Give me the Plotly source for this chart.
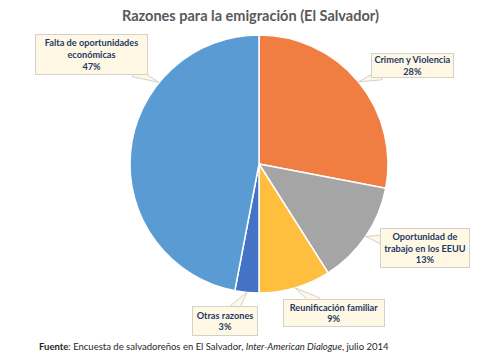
import math
import plotly.graph_objects as go

# ---- data ----
categories = ["Crimen y Violencia", "Oportunidad de trabajo en los EEUU",
              "Reunificación familiar", "Otras razones",
              "Falta de oportunidades económicas"]
values = [28, 13, 9, 3, 47]
label_lines = [["Crimen y Violencia"],
               ["Oportunidad de", "trabajo en los EEUU"],
               ["Reunificación familiar"],
               ["Otras razones"],
               ["Falta de oportunidades", "económicas"]]
colors = ["#F07D41", "#A5A5A5", "#FFBE3D", "#4472C4", "#5A9BD4"]

title = "Razones para la emigración (El Salvador)"
source = ("<b>Fuente</b>: Encuesta de salvadoreños en El Salvador, "
          "<i>Inter-American Dialogue</i>, julio 2014")

# ---- layout / style ----
W, H = 500, 356
CX, CY, R = 259, 164, 129          # pie centre and radius (pixels)
# callout box: centre x, centre y, width, height (pixels); tip position along slice
boxes = [(412.5, 65.5, 83, 25, 0.5),
         (425, 248, 90, 40, 0.5),
         (334, 313, 102, 28, 0.5),
         (225, 321, 66, 30, 0.5),
         (91.5, 54.5, 113, 41, 0.70)]
TXT = "#1F3864"
BOXBG = "#FEF8E4"
BOXLINE = "#D3D1CC"
FONT = "Lato"

def px2paper(x, y):
    return x / W, 1 - y / H

fig = go.Figure(go.Pie(
    labels=categories, values=values, sort=False, direction="clockwise",
    rotation=0, marker=dict(colors=colors, line=dict(color="white", width=1.5)),
    textinfo="none", hoverinfo="label+percent", showlegend=False,
    domain=dict(x=[(CX - R) / W, (CX + R) / W], y=[1 - (CY + R) / H, 1 - (CY - R) / H]),
))

total = sum(values)
cum = 0
shapes, annotations = [], []
for i, v in enumerate(values):
    bx, by, bw, bh, frac = boxes[i]
    ang = 2 * math.pi * (cum + v * frac) / total
    cum += v
    tx = CX + R * math.sin(ang)
    ty = CY - R * math.cos(ang)
    # tail triangle
    dx, dy = tx - bx, ty - by
    s = min((bw / 2 - 3) / abs(dx) if dx else 1e9, (bh / 2 - 3) / abs(dy) if dy else 1e9)
    ex, ey = bx + dx * s, by + dy * s
    L = math.hypot(dx, dy)
    nx, ny = -dy / L, dx / L
    p1 = px2paper(ex + nx * 5, ey + ny * 5)
    p2 = px2paper(ex - nx * 5, ey - ny * 5)
    pt = px2paper(tx, ty)
    shapes.append(dict(type="path", xref="paper", yref="paper",
                       path=f"M{p1[0]},{p1[1]} L{pt[0]},{pt[1]} L{p2[0]},{p2[1]} Z",
                       fillcolor=BOXBG, line=dict(color=BOXLINE, width=1), layer="above"))
    text = "<br>".join(f"<b>{t}</b>" for t in label_lines[i] + [f"{v}%"])
    ax_, ay_ = px2paper(bx, by)
    annotations.append(dict(x=ax_, y=ay_, xref="paper", yref="paper", text=text,
                            showarrow=False, xanchor="center", yanchor="middle",
                            width=bw - 2, height=bh - 2, borderpad=0,
                            bgcolor=BOXBG, bordercolor=BOXLINE, borderwidth=1,
                            font=dict(family=FONT, size=9.2, color=TXT)))

annotations.append(dict(x=0.5, y=1 - 15 / H, xref="paper", yref="paper", text=f"<b>{title}</b>",
                        showarrow=False, xanchor="center", yanchor="middle",
                        font=dict(family=FONT, size=14.5, color="#595959")))
annotations.append(dict(x=37 / W, y=1 - 346 / H, xref="paper", yref="paper", text=source,
                        showarrow=False, xanchor="left", yanchor="middle",
                        font=dict(family=FONT, size=9.5, color="#262626")))

fig.update_layout(width=W, height=H, margin=dict(l=0, r=0, t=0, b=0),
                  paper_bgcolor="white", plot_bgcolor="white",
                  shapes=shapes, annotations=annotations)
fig.write_html("out.html", config={"displayModeBar": False},
               post_script="document.body.style.margin='0';")
